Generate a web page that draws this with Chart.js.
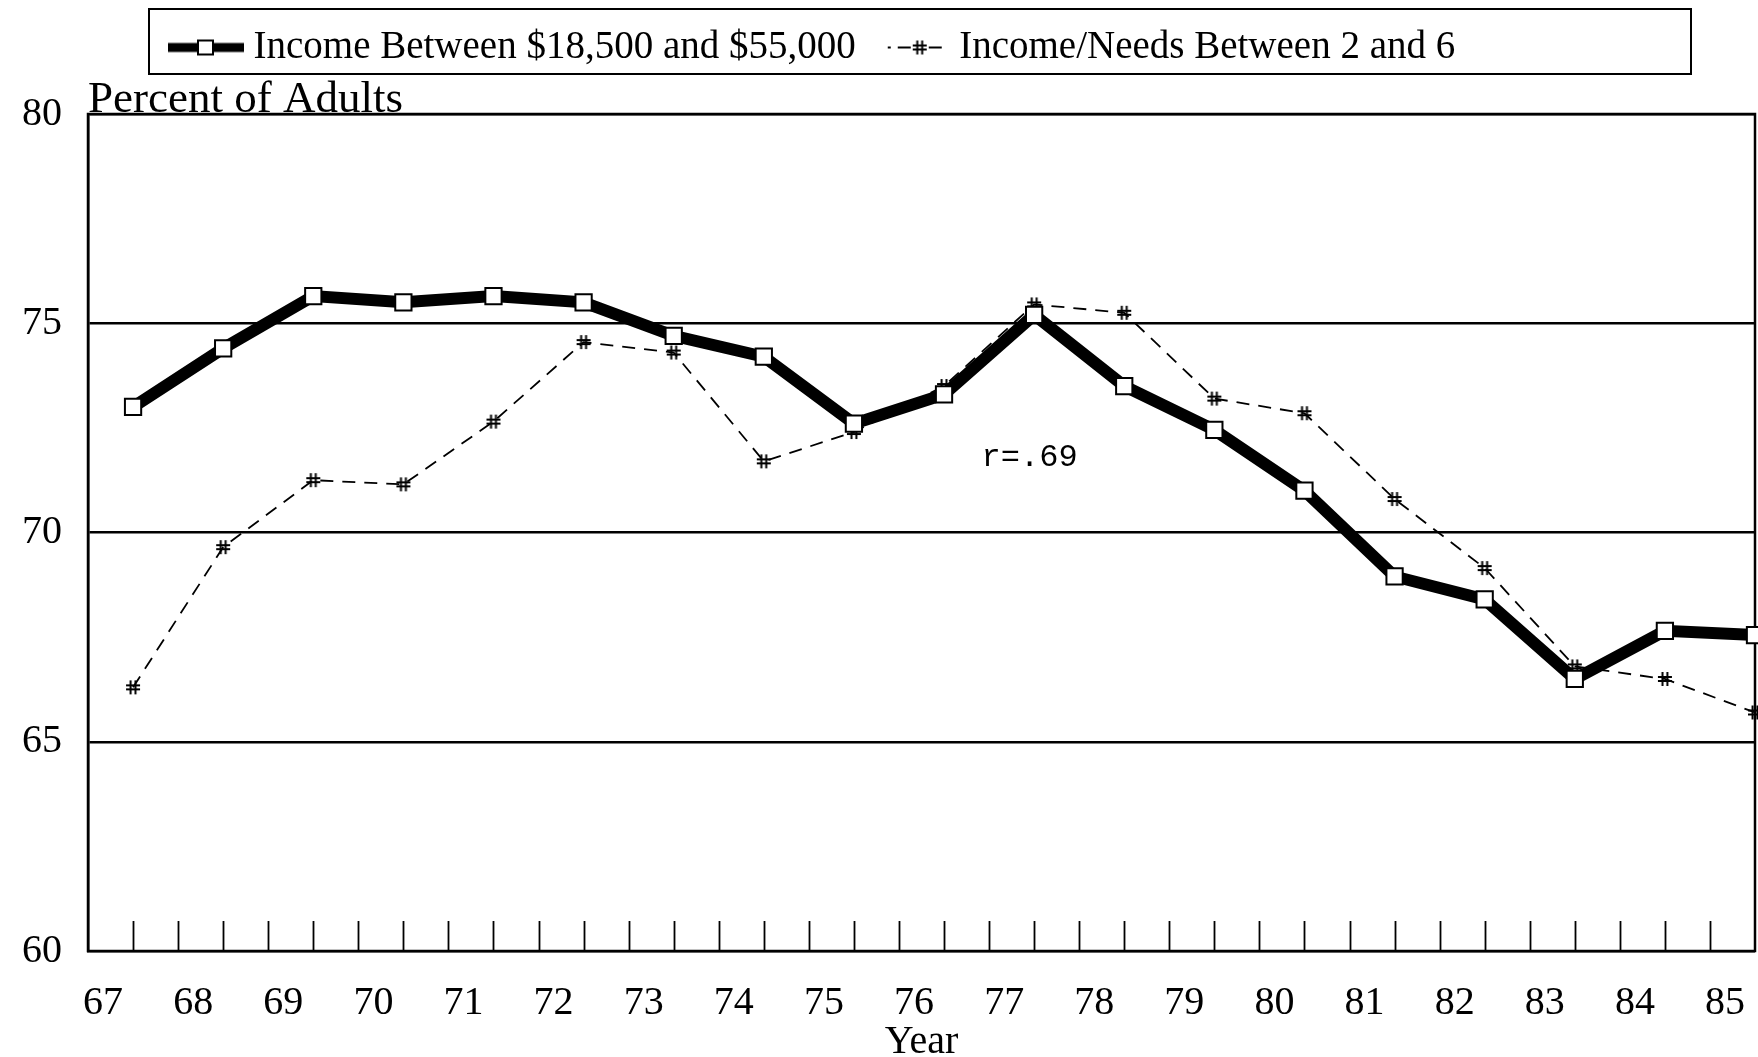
<!DOCTYPE html>
<html>
<head>
<meta charset="utf-8">
<script src="https://cdn.jsdelivr.net/npm/chart.js@4.4.1/dist/chart.umd.min.js"></script>
<style>
  html, body { margin: 0; padding: 0; background: #fff; }
  #wrap { width: 1758px; height: 1057px; }
</style>
</head>
<body>
<div id="wrap"><canvas id="adultsChart" width="1758" height="1057"></canvas></div>
<script>
// Data
const years = [67, 68, 69, 70, 71, 72, 73, 74, 75, 76, 77, 78, 79, 80, 81, 82, 83, 84, 85];
const incomeBetween = [73.0, 74.4, 75.65, 75.5, 75.65, 75.5, 74.7, 74.2, 72.6, 73.3, 75.2, 73.5, 72.45, 71.0, 68.95, 68.4, 66.5, 67.65, 67.55];
const incomeNeeds = [66.3, 69.65, 71.25, 71.15, 72.65, 74.55, 74.3, 71.7, 72.4, 73.5, 75.45, 75.25, 73.2, 72.85, 70.8, 69.15, 66.8, 66.5, 65.7];
const seriesNames = ['Income Between $18,500 and $55,000', 'Income/Needs Between 2 and 6'];
const yMin = 60, yMax = 80, yStep = 5;
const xMin = 66.5, xMax = 85;
const chartTitle = 'Percent of Adults';
const xTitle = 'Year';
const corrNote = { text: 'r=.69', x: 76.95, y: 71.8 };

Chart.defaults.color = '#000';
const serif = 'Liberation Serif';

// '#' marker
function drawHash(g, x, y, s) {
    g.lineWidth = 2;
    g.beginPath();
    g.moveTo(x - s * 0.35, y - s); g.lineTo(x - s * 0.35, y + s);
    g.moveTo(x + s * 0.35, y - s); g.lineTo(x + s * 0.35, y + s);
    g.moveTo(x - s, y - s * 0.3); g.lineTo(x + s, y - s * 0.3);
    g.moveTo(x - s, y + s * 0.3); g.lineTo(x + s, y + s * 0.3);
    g.stroke();
}

const hashMark = (() => {
    const c = document.createElement('canvas');
    c.width = 18; c.height = 18;
    const g = c.getContext('2d');
    g.strokeStyle = '#000';
    drawHash(g, 9, 9, 7);
    return c;
})();

// Legend samples (line + marker)
function makeSample(kind) {
    const c = document.createElement('canvas');
    c.width = kind === 'square' ? 76 : 96;
    c.height = 18;
    const g = c.getContext('2d');
    g.strokeStyle = '#000';
    const mid = 9;
    if (kind === 'square') {
        g.lineWidth = 9;
        g.beginPath(); g.moveTo(0, mid); g.lineTo(76, mid); g.stroke();
        g.fillStyle = '#fff';
        g.lineWidth = 2;
        g.fillRect(30, 2, 15, 14);
        g.strokeRect(30, 2, 15, 14);
    } else {
        g.lineWidth = 1.8;
        g.beginPath();
        g.moveTo(24, mid); g.lineTo(27, mid);
        g.moveTo(34, mid); g.lineTo(47, mid);
        g.moveTo(65, mid); g.lineTo(78, mid);
        g.stroke();
        drawHash(g, 56, mid, 7);
    }
    return c;
}
const legendSamples = [makeSample('square'), makeSample('hash')];

const framePlugin = {
    id: 'frame',
    afterLayout(chart) {
        // legend sits left of centre in the original
        chart.legend.left = 150;
    },
    beforeDatasetsDraw(chart) {
        const { ctx, chartArea: a, scales: { x } } = chart;
        ctx.save();
        ctx.strokeStyle = '#000';
        ctx.lineWidth = 2.5;
        ctx.strokeRect(a.left, a.top, a.right - a.left, a.bottom - a.top);
        // short tick marks rising from the bottom axis
        ctx.lineWidth = 1.8;
        ctx.beginPath();
        x.ticks.forEach(t => {
            if (t.value <= xMin || t.value >= xMax) return;
            const px = Math.round(x.getPixelForValue(t.value)) + 0.5;
            ctx.moveTo(px, a.bottom);
            ctx.lineTo(px, a.bottom - 30);
        });
        ctx.stroke();
        ctx.restore();
    },
    afterDatasetsDraw(chart) {
        const { ctx, scales: { x, y } } = chart;
        ctx.save();
        ctx.font = '32px "Liberation Mono"';
        ctx.fillStyle = '#000';
        ctx.textAlign = 'center';
        ctx.textBaseline = 'middle';
        ctx.fillText(corrNote.text, x.getPixelForValue(corrNote.x), y.getPixelForValue(corrNote.y));
        ctx.restore();
    },
    afterDraw(chart) {
        const lg = chart.legend;
        const hb = lg.legendHitBoxes;
        if (!hb || !hb.length) return;
        const ctx = chart.ctx;
        ctx.save();
        ctx.strokeStyle = '#000';
        ctx.lineWidth = 2;
        ctx.strokeRect(hb[0].left - 29, lg.top + 9, 1542, 65);
        ctx.restore();
    }
};

const ctx = document.getElementById('adultsChart');
new Chart(ctx, {
    type: 'line',
    data: {
        datasets: [
            {
                label: seriesNames[0],
                data: years.map((yr, i) => ({ x: yr, y: incomeBetween[i] })),
                borderColor: '#000',
                borderWidth: 12,
                tension: 0,
                pointStyle: 'rect',
                pointRadius: 11.5,
                pointBackgroundColor: '#fff',
                pointBorderColor: '#000',
                pointBorderWidth: 2,
                clip: false
            },
            {
                label: seriesNames[1],
                data: years.map((yr, i) => ({ x: yr, y: incomeNeeds[i] })),
                borderColor: '#000',
                borderWidth: 1.8,
                borderDash: [13, 9],
                tension: 0,
                pointStyle: hashMark,
                pointRadius: 8,
                clip: false
            }
        ]
    },
    options: {
        responsive: false,
        animation: false,
        layout: { autoPadding: false, padding: { left: 22, right: 3, top: 0, bottom: 0 } },
        plugins: {
            tooltip: { enabled: false },
            legend: {
                position: 'top',
                align: 'start',
                weight: 1000,
                labels: {
                    usePointStyle: true,
                    pointStyleWidth: 56,
                    boxHeight: 18,
                    padding: 28,
                    font: { family: serif, size: 39 },
                    generateLabels: () => seriesNames.map((name, i) => ({
                        text: name,
                        pointStyle: legendSamples[i],
                        fillStyle: '#000',
                        strokeStyle: '#000',
                        lineWidth: 0,
                        fontColor: '#000',
                        hidden: false,
                        datasetIndex: i
                    }))
                }
            },
            title: {
                display: true,
                text: chartTitle,
                position: 'top',
                align: 'start',
                fullSize: false,
                weight: 500,
                color: '#000',
                font: { family: serif, size: 45, weight: 'normal', lineHeight: 1 },
                padding: { top: 1, bottom: -9 }
            }
        },
        scales: {
            x: {
                type: 'linear',
                min: xMin,
                max: xMax,
                grid: { display: false, drawTicks: false },
                border: { display: false },
                afterFit(s) {
                    s.height = 106;
                    s.paddingLeft = 0;
                    s.paddingRight = 0;
                },
                ticks: {
                    stepSize: 0.5,
                    autoSkip: false,
                    maxRotation: 0,
                    minRotation: 0,
                    padding: 28,
                    labelOffset: -30,
                    font: { family: serif, size: 40 },
                    callback: v => Number.isInteger(v) ? String(v) : ''
                },
                title: {
                    display: true,
                    text: xTitle,
                    font: { family: serif, size: 40, lineHeight: 1 },
                    padding: { top: 0, bottom: -5 }
                }
            },
            y: {
                min: yMin,
                max: yMax,
                grid: { color: '#000', lineWidth: 2.5, drawTicks: false },
                border: { display: true, color: '#000', width: 2.5 },
                afterFit(s) {
                    s.width = 66;
                },
                ticks: {
                    stepSize: yStep,
                    padding: 26,
                    font: { family: serif, size: 40 }
                }
            }
        }
    },
    plugins: [framePlugin]
});
</script>
</body>
</html>
